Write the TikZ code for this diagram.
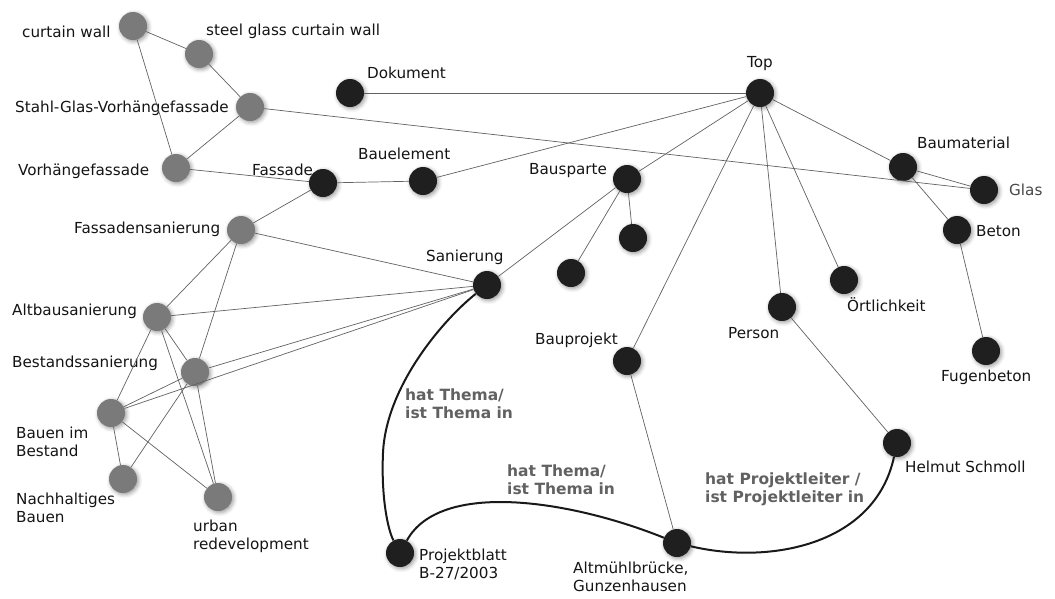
\documentclass[tikz,border=0pt]{standalone}
\usepackage{fontspec}
\setmainfont{DejaVu Sans}
\usetikzlibrary{shadows.blur}
\begin{document}
\begin{tikzpicture}[x=1pt,y=-1pt,
 dot/.style={circle,minimum size=28pt,inner sep=0pt,blur shadow={shadow xshift=1.5pt,shadow yshift=-1.5pt,shadow blur radius=4pt,shadow opacity=40}},
 blk/.style={dot,fill=black!88},
 gry/.style={dot,fill=black!52},
 lbl/.style={font=\fontsize{15.2}{18}\selectfont,inner sep=0pt,align=left,text=black!92,anchor=base west},
 rel/.style={font=\fontsize{15.5}{18}\selectfont\bfseries,inner sep=0pt,align=left,text=black!62,anchor=base west},
 edge/.style={draw=black!62,line width=0.7pt},
 strong/.style={draw=black!90,line width=2pt}]
\useasboundingbox (0,0) rectangle (1055,598);
% grey nodes
\node[gry] (cw) at (133,26) {};
\node[gry] (sg) at (199,54) {};
\node[gry] (svf) at (250,107) {};
\node[gry] (vf) at (176,168) {};
\node[gry] (fs) at (241,230) {};
\node[gry] (as) at (157,317) {};
\node[gry] (bs) at (195,372) {};
\node[gry] (bib) at (111,413) {};
\node[gry] (nb) at (123,479) {};
\node[gry] (ur) at (218,497) {};
% black nodes
\node[blk] (dok) at (350,93) {};
\node[blk] (top) at (760,93) {};
\node[blk] (fas) at (323,183) {};
\node[blk] (bel) at (423,181) {};
\node[blk] (bsp) at (627,179) {};
\node[blk] (bc1) at (633,238) {};
\node[blk] (bc2) at (571,273) {};
\node[blk] (san) at (487,285) {};
\node[blk] (bm) at (903,167) {};
\node[blk] (gl) at (984,190) {};
\node[blk] (bet) at (957,230) {};
\node[blk] (oe) at (844,280) {};
\node[blk] (per) at (782,307) {};
\node[blk] (fb) at (986,351) {};
\node[blk] (bp) at (627,361) {};
\node[blk] (hel) at (897,443) {};
\node[blk] (alt) at (677,543) {};
\node[blk] (pb) at (400,553) {};
% labels
\node[lbl] (tcw) at (22,37.5) {curtain wall};
\node[lbl] (tsg) at (206,35.5) {steel glass curtain wall};
\node[lbl] (tsvf) at (15,112.5) {Stahl-Glas-Vorhängefassade};
\node[lbl] (tvf) at (18,175.5) {Vorhängefassade};
\node[lbl] (tfas) at (252,175.5) {Fassade};
\node[lbl] (tdok) at (367,78.5) {Dokument};
\node[lbl,anchor=base] (ttop) at (760,67.5) {Top};
\node[lbl] (tbel) at (358,159.5) {Bauelement};
\node[lbl] (tbsp) at (529,174.5) {Bausparte};
\node[lbl] (tsan) at (426,261.5) {Sanierung};
\node[lbl] (tfs) at (74,233.5) {Fassadensanierung};
\node[lbl] (tas) at (12,315.5) {Altbausanierung};
\node[lbl] (tbs) at (12,367.5) {Bestandssanierung};
\node[lbl] (tbib) at (16,456.5) {Bauen im\\Bestand};
\node[lbl] (tnb) at (16,522.5) {Nachhaltiges\\Bauen};
\node[lbl] (tur) at (193,549.5) {urban\\redevelopment};
\node[lbl] (tpb) at (419,578.5) {Projektblatt\\B-27/2003};
\node[lbl] (talt) at (573,591.5) {Altmühlbrücke,\\Gunzenhausen};
\node[lbl] (tbp) at (535,344.5) {Bauprojekt};
\node[lbl] (tper) at (728,338.5) {Person};
\node[lbl] (toe) at (847,311.5) {Örtlichkeit};
\node[lbl] (tfb) at (941,381.5) {Fugenbeton};
\node[lbl] (tbet) at (976,236.5) {Beton};
\node[lbl,text=black!72] (tgl) at (1009,195.5) {Glas};
\node[lbl] (tbm) at (917,148.5) {Baumaterial};
\node[lbl] (thel) at (905,472.5) {Helmut Schmoll};
\node[rel] (r1) at (405,418.5) {hat Thema/\\ist Thema in};
\node[rel] (r2) at (507,494.5) {hat Thema/\\ist Thema in};
\node[rel] (r3) at (705,502.5) {hat Projektleiter /\\ist Projektleiter in};
% thin edges
\draw[edge] (cw) -- (sg);
\draw[edge] (cw) -- (vf);
\draw[edge] (sg) -- (svf);
\draw[edge] (svf) -- (vf);
\draw[edge] (svf) -- (gl);
\draw[edge] (vf) -- (fas);
\draw[edge] (fas) -- (bel);
\draw[edge] (fas) -- (fs);
\draw[edge] (bel) -- (top);
\draw[edge] (dok) -- (top);
\draw[edge] (top) -- (bsp);
\draw[edge] (top) -- (bm);
\draw[edge] (top) -- (per);
\draw[edge] (top) -- (oe);
\draw[edge] (top) -- (bp);
\draw[edge] (bm) -- (gl);
\draw[edge] (bm) -- (bet);
\draw[edge] (bet) -- (fb);
\draw[edge] (bsp) -- (bc1);
\draw[edge] (bsp) -- (bc2);
\draw[edge] (bsp) -- (san);
\draw[edge] (san) -- (fs);
\draw[edge] (san) -- (as);
\draw[edge] (san) -- (bs);
\draw[edge] (san) -- (bib);
\draw[edge] (fs) -- (as);
\draw[edge] (fs) -- (bs);
\draw[edge] (as) -- (bs);
\draw[edge] (as) -- (bib);
\draw[edge] (as) -- (ur);
\draw[edge] (bs) -- (bib);
\draw[edge] (bs) -- (nb);
\draw[edge] (bs) -- (ur);
\draw[edge] (bib) -- (nb);
\draw[edge] (bib) -- (ur);
\draw[edge] (bp) -- (alt);
\draw[edge] (per) -- (hel);
% strong relations
\draw[strong] (san) .. controls (445,318) and (386,385) .. (383,453) .. controls (381,498) and (388,530) .. (pb);
\draw[strong] (pb) .. controls (440,480) and (570,500) .. (alt);
\draw[strong] (alt) .. controls (770,565) and (875,545) .. (hel);
\end{tikzpicture}
\end{document}
